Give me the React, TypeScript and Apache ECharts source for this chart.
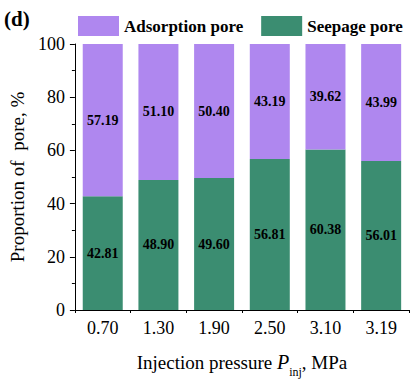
import React, { useEffect, useRef } from "react";
import * as echarts from "echarts";

const categories = ["0.70", "1.30", "1.90", "2.50", "3.10", "3.19"];
const seepage = [42.81, 48.9, 49.6, 56.81, 60.38, 56.01];
const adsorption = [57.19, 51.1, 50.4, 43.19, 39.62, 43.99];
const yTicks = { min: 0, max: 100, interval: 20 };

const FONT = "Times New Roman, Liberation Serif, serif";
const PURPLE = "#AF87EF";
const GREEN = "#3B8D71";

export default function App() {
  const ref = useRef<HTMLDivElement>(null);
  useEffect(() => {
    document.body.style.margin = "0";
    if (!ref.current) return;
    const chart = echarts.init(ref.current, null, { renderer: "svg" });
    const labelStyle = {
      show: true,
      position: "inside",
      color: "#000",
      fontFamily: FONT,
      fontWeight: "bold",
      fontSize: 14,
      formatter: (p: any) => Number(p.value).toFixed(2),
    };
    chart.setOption({
      animation: false,
      textStyle: { fontFamily: FONT },
      graphic: [
        {
          type: "text",
          left: 4,
          top: 8,
          style: {
            text: "(d)",
            fontFamily: FONT,
            fontWeight: "bold",
            fontSize: 21,
            fill: "#000",
          },
        },
      ],
      legend: {
        left: 78,
        top: 16,
        padding: 0,
        itemWidth: 41,
        itemHeight: 20,
        itemGap: 18,
        icon: "rect",
        data: ["Adsorption pore", "Seepage pore"],
        textStyle: { fontFamily: FONT, fontSize: 17, fontWeight: "bold", color: "#000" },
      },
      grid: { left: 71, right: 5, top: 44, bottom: 65.5 },
      xAxis: [
        {
          type: "category",
          data: categories,
          axisLine: { lineStyle: { color: "#000", width: 1 } },
          axisTick: { alignWithLabel: true, length: 5, lineStyle: { color: "#000" } },
          axisLabel: { color: "#000", fontFamily: FONT, fontSize: 18, margin: 9 },
          name: "Injection pressure {i|P}{s|inj}, MPa",
          nameLocation: "middle",
          nameGap: 42,
          nameTextStyle: {
            color: "#000",
            fontFamily: FONT,
            fontSize: 19,
            rich: {
              i: { fontFamily: FONT, fontSize: 20, fontStyle: "italic", color: "#000" },
              s: {
                fontFamily: FONT,
                fontSize: 12,
                color: "#000",
                verticalAlign: "bottom",
                lineHeight: 12,
                padding: [0, 0, -6, 0],
              },
            },
          },
        },
        {
          type: "category",
          data: categories,
          position: "bottom",
          axisLine: { show: false },
          axisTick: { show: true, length: 3, lineStyle: { color: "#000" } },
          axisLabel: { show: false },
        },
      ],
      yAxis: {
        type: "value",
        min: yTicks.min,
        max: yTicks.max,
        interval: yTicks.interval,
        axisLine: { show: true, lineStyle: { color: "#000", width: 1 } },
        axisTick: { show: true, length: 5, lineStyle: { color: "#000" } },
        minorTick: { show: true, splitNumber: 2, length: 3, lineStyle: { color: "#000" } },
        splitLine: { show: false },
        axisLabel: { color: "#000", fontFamily: FONT, fontSize: 18, margin: 10 },
        name: "Proportion of  pore, %",
        nameLocation: "middle",
        nameGap: 39,
        nameTextStyle: { color: "#000", fontFamily: FONT, fontSize: 19 },
      },
      series: [
        {
          name: "Seepage pore",
          type: "bar",
          stack: "total",
          barWidth: 40,
          xAxisIndex: 0,
          data: seepage,
          itemStyle: { color: GREEN },
          label: labelStyle,
        },
        {
          name: "Adsorption pore",
          type: "bar",
          stack: "total",
          barWidth: 40,
          xAxisIndex: 0,
          data: adsorption,
          itemStyle: { color: PURPLE },
          label: labelStyle,
        },
      ],
    });
    return () => chart.dispose();
  }, []);
  return <div ref={ref} style={{ width: 414, height: 383 }} />;
}
